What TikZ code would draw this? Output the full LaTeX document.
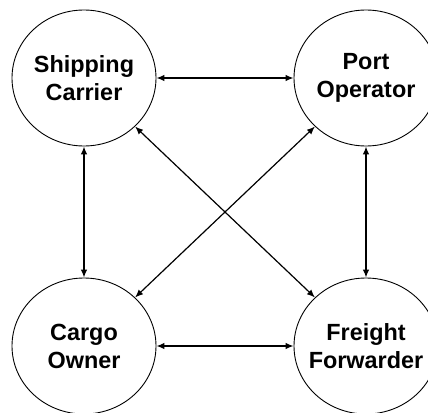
\documentclass[tikz,border=0pt]{standalone}
\usepackage{fontspec}
\setmainfont{Liberation Sans}
\usetikzlibrary{shapes.geometric,arrows.meta}

\tikzset{
  party/.style={ellipse, draw, line width=0.9pt, minimum width=144pt, minimum height=136pt,
    inner xsep=-20pt, inner ysep=0pt, align=center,
    font=\fontsize{23.4}{28}\selectfont\bfseries},
  link/.style={{Latex[length=8pt,width=6.5pt]}-{Latex[length=8pt,width=6.5pt]}, line width=1.2pt},
}

\begin{document}
\begin{tikzpicture}[x=1pt,y=-1pt]
\useasboundingbox (0,0) rectangle (428,412);
% the four parties
\node[party] (carrier)   at (84,78)   {Shipping\\Carrier};
\node[party] (operator)  at (366,78)  {Port\\Operator};
\node[party] (owner)     at (84,346)  {Cargo\\Owner};
\node[party] (forwarder) at (366,346) {Freight\\Forwarder};
% two-way links
\draw[link] (carrier) -- (operator);
\draw[link] (carrier) -- (owner);
\draw[link] (operator) -- (forwarder);
\draw[link] (owner) -- (forwarder);
\draw[link] (carrier) -- (forwarder);
\draw[link] (operator) -- (owner);
\end{tikzpicture}
\end{document}
